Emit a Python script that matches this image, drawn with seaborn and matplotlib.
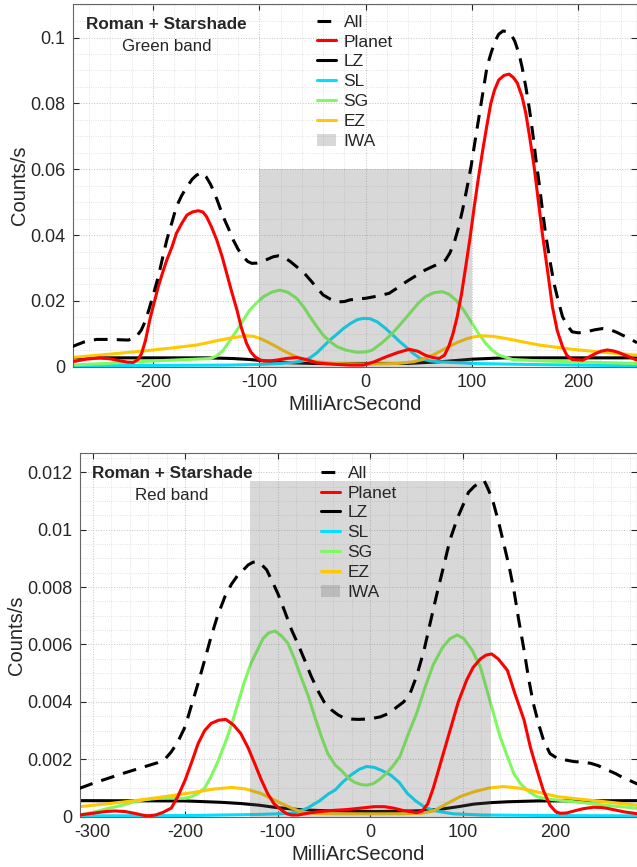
"""
Counts/s profiles across the Roman + Starshade field, green and red bands.
"""

import seaborn as sns
import matplotlib.pyplot as plt
from matplotlib.patches import Patch
from matplotlib.lines import Line2D
from matplotlib.ticker import MultipleLocator, FormatStrFormatter

# ---------------- Green band (top panel) ----------------
g_all_x = [-276, -265, -253, -240, -223, -216, -211, -207, -203, -199, -195, -191, -187, -182,
           -178, -173, -168, -163, -159, -154, -150, -146, -142, -138, -134, -129, -124.5, -120,
           -115, -111, -107, -102, -98, -92, -87, -82, -77.5, -71, -65, -58, -52, -46, -40, -33,
           -27, -20, -15, -8, 0, 10, 22, 30, 38, 47, 56, 66, 75, 79, 83, 87, 91, 95, 99, 103,
           107, 111, 114, 118, 122, 125, 129, 133, 136, 140, 144, 147, 150.5, 154, 157, 160, 163,
           166, 169, 173, 177, 181, 185, 190, 194, 200, 207, 215, 222.6, 229, 235, 244.5, 250, 255]
g_all_y = [0.0061, 0.0075, 0.0083, 0.0083, 0.0081, 0.0090, 0.0111, 0.014, 0.0182, 0.0227, 0.0273,
           0.033, 0.0385, 0.0440, 0.0486, 0.052, 0.0547, 0.057, 0.0582, 0.059, 0.0577, 0.0555,
           0.0527, 0.0492, 0.0456, 0.042, 0.0385, 0.0357, 0.0334, 0.032, 0.0314, 0.0315, 0.0319,
           0.0327, 0.0334, 0.0337, 0.0334, 0.032, 0.0304, 0.0285, 0.0263, 0.024, 0.0218, 0.0205,
           0.0197, 0.0198, 0.0203, 0.0206, 0.0208, 0.0214, 0.0223, 0.024, 0.0258, 0.0276, 0.0294,
           0.0309, 0.0324, 0.0345, 0.0375, 0.042, 0.0476, 0.054, 0.0608, 0.069, 0.077, 0.085,
           0.0911, 0.0955, 0.0992, 0.101, 0.102, 0.1018, 0.1013, 0.099, 0.0952, 0.091, 0.085,
           0.078, 0.0709, 0.063, 0.0557, 0.048, 0.0405, 0.0325, 0.0253, 0.020, 0.0152, 0.0123,
           0.0106, 0.0103, 0.0106, 0.0112, 0.0116, 0.0113, 0.0106, 0.0091, 0.0082, 0.0073]

g_planet_x = [-276, -263, -250, -240, -231, -224, -218.5, -214, -210.7, -207, -203, -199, -195,
              -191, -187, -182, -178, -173, -168, -163, -157.4, -153, -149.6, -145, -140, -135,
              -130.7, -126, -121, -117, -112, -108, -104, -100, -96, -90, -84, -75, -65, -56, -46,
              -37, -27, -14, -2, 8, 19, 30, 41, 49, 56, 63, 69, 74, 78, 82, 86, 90, 94, 98, 102,
              106, 110, 114, 117.6, 121, 125, 130, 134.8, 139, 142.6, 147, 150.5, 154, 158.3, 162,
              166, 171, 175.5, 180, 185, 189, 194, 204, 210, 216, 221, 227, 233, 238, 247.6, 255]
g_planet_y = [0.0015, 0.0023, 0.0027, 0.0024, 0.0018, 0.0014, 0.0013, 0.0022, 0.0040, 0.0080,
              0.0142, 0.0193, 0.0243, 0.0285, 0.0324, 0.0365, 0.0405, 0.0435, 0.0461, 0.0470,
              0.0474, 0.0470, 0.0456, 0.0425, 0.0385, 0.0335, 0.0284, 0.0228, 0.0172, 0.0120,
              0.0071, 0.0045, 0.0030, 0.0022, 0.0018, 0.0018, 0.0020, 0.0025, 0.0028, 0.0022,
              0.0012, 0.0009, 0.0007, 0.0005, 0.0005, 0.0015, 0.0030, 0.0043, 0.0053, 0.0047,
              0.0035, 0.0028, 0.0025, 0.0035, 0.0061, 0.0100, 0.0152, 0.0220, 0.0304, 0.0390,
              0.0486, 0.0575, 0.0658, 0.0735, 0.0800, 0.0840, 0.0871, 0.0885, 0.0889, 0.0878,
              0.0861, 0.0820, 0.0770, 0.0700, 0.0608, 0.0510, 0.0405, 0.0290, 0.0182, 0.0110,
              0.0061, 0.0035, 0.0022, 0.0020, 0.0030, 0.0040, 0.0047, 0.0051, 0.0048, 0.0043,
              0.0030, 0.0020]

g_lz_x = [-276, -150, -125, -109, -96, -84, -70, -50, 0, 40, 69, 85, 100, 115, 131, 255]
g_lz_y = [0.0027, 0.0027, 0.0025, 0.0022, 0.0018, 0.0015, 0.0012, 0.0010, 0.0010, 0.0010, 0.0015,
          0.0019, 0.0023, 0.0025, 0.0027, 0.0027]

g_sl_x = [-276, -200, -130, -100, -80, -66, -58.6, -52, -46, -40, -34, -27, -21, -14, -8, -2, 4,
          11, 18.8, 25, 31, 37.6, 44, 51.4, 60, 69, 100, 150, 200, 255]
g_sl_y = [0.0003, 0.0004, 0.0005, 0.0007, 0.0010, 0.0014, 0.0018, 0.0028, 0.0042, 0.0061, 0.0080,
          0.0099, 0.0116, 0.0132, 0.0143, 0.0147, 0.0146, 0.0136, 0.0116, 0.0098, 0.0079, 0.0061,
          0.0042, 0.0025, 0.0018, 0.0015, 0.0010, 0.0007, 0.0005, 0.0003]

g_sg_x = [-276, -245, -215, -190, -168, -146, -140, -134, -128, -121, -115, -109, -102, -96, -88,
          -80.6, -73, -65, -58, -52.4, -46, -40, -33, -27, -18, -8.5, 0, 6, 15, 25, 35, 44, 50,
          56.4, 64, 72, 78, 84.6, 92, 100, 106, 112.8, 119, 125.4, 138, 163, 194, 255]
g_sg_y = [0.0005, 0.0010, 0.0015, 0.0019, 0.0022, 0.0025, 0.0033, 0.0050, 0.0078, 0.0111, 0.0142,
          0.0172, 0.0196, 0.0213, 0.0227, 0.0233, 0.0226, 0.0208, 0.0180, 0.0152, 0.0122, 0.0096,
          0.0075, 0.0061, 0.0050, 0.0044, 0.0045, 0.0050, 0.0072, 0.0101, 0.0138, 0.0172, 0.0195,
          0.0213, 0.0225, 0.0228, 0.0221, 0.0203, 0.0172, 0.0132, 0.0101, 0.0071, 0.0050, 0.0035,
          0.0022, 0.0018, 0.0015, 0.0010]

g_ez_x = [-276, -245, -215, -185, -159, -137, -124, -112, -105, -99.4, -92, -84, -75, -65, -56,
          -46, -30, 0, 30, 45, 53, 62.7, 70, 78, 87, 95, 102, 109.7, 120, 131.7, 147, 163, 180,
          194, 220, 255]
g_ez_y = [0.0028, 0.0037, 0.0046, 0.0056, 0.0066, 0.0081, 0.0089, 0.0094, 0.0092, 0.0086, 0.0075,
          0.0061, 0.0045, 0.0030, 0.0020, 0.0015, 0.0010, 0.0008, 0.0010, 0.0015, 0.0022, 0.0035,
          0.0047, 0.0061, 0.0075, 0.0085, 0.0091, 0.0094, 0.0092, 0.0086, 0.0076, 0.0066, 0.0059,
          0.0053, 0.0045, 0.0035]

g_iwa = [-100, 100]
g_iwa_top = 0.06

# ---------------- Red band (bottom panel) ----------------
r_all_x = [-314, -298, -283, -268, -255, -242, -230, -222, -215, -208, -200, -193, -186, -179,
           -172, -165, -157, -150, -143, -137, -132, -127, -123, -118, -112, -106, -100, -93, -85,
           -78, -71, -64, -57, -50, -42, -35, -28, -20, -13, -5, 3, 11, 20, 29, 36, 43, 50, 58,
           65, 72, 79, 86, 94, 101, 106, 112, 119, 123, 126, 130, 133, 139, 144, 150, 155, 160,
           166, 171, 176, 182, 187, 194, 202, 210, 220, 230, 238, 246, 256, 265, 274, 281, 289]
r_all_y = [0.00099, 0.00118, 0.00134, 0.00150, 0.00163, 0.00176, 0.00188, 0.00200, 0.00226,
           0.00260, 0.00314, 0.00390, 0.00465, 0.00545, 0.00627, 0.00700, 0.00767, 0.00810,
           0.00842, 0.00860, 0.00877, 0.00886, 0.00889, 0.00880, 0.00860, 0.00820, 0.00778,
           0.00720, 0.00650, 0.00600, 0.00546, 0.00490, 0.00441, 0.00400, 0.00372, 0.00355,
           0.00343, 0.00340, 0.00339, 0.00340, 0.00343, 0.00348, 0.00360, 0.00383, 0.00400,
           0.00430, 0.00490, 0.00580, 0.00680, 0.00778, 0.00870, 0.00964, 0.01040, 0.01092,
           0.01130, 0.01150, 0.01167, 0.01170, 0.01150, 0.01120, 0.01092, 0.01020, 0.00952,
           0.00870, 0.00790, 0.00690, 0.00580, 0.00480, 0.00395, 0.00320, 0.00267, 0.00220,
           0.00203, 0.00198, 0.00192, 0.00190, 0.00186, 0.00178, 0.00163, 0.00150, 0.00134,
           0.00125, 0.00113]

r_planet_x = [-314, -300, -286, -276, -265, -255, -245, -240, -232, -224, -215, -208, -200, -193,
              -186, -179, -172, -164, -156, -148, -140, -132, -125, -118, -111, -104, -96, -90,
              -85, -78, -68, -55, -40, -25, -10, 4, 15, 25, 35, 45, 50, 56, 62, 68, 77, 86, 95,
              104, 111, 119, 125, 131, 138, 148, 156, 166, 173, 180, 187, 194, 200, 205, 212, 220,
              230, 241, 250, 256, 265, 274, 289]
r_planet_y = [0.00006, 0.00012, 0.00018, 0.00020, 0.00018, 0.00012, 0.00005, 0.00003, 0.00006,
              0.00015, 0.00030, 0.00070, 0.00128, 0.00190, 0.00255, 0.00300, 0.00325, 0.00336,
              0.00339, 0.00320, 0.00290, 0.00240, 0.00186, 0.00130, 0.00081, 0.00045, 0.00023,
              0.00010, 0.00006, 0.00006, 0.00012, 0.00018, 0.00022, 0.00025, 0.00030, 0.00035,
              0.00035, 0.00030, 0.00022, 0.00017, 0.00014, 0.00020, 0.00045, 0.00100, 0.00200,
              0.00300, 0.00400, 0.00476, 0.00520, 0.00550, 0.00563, 0.00567, 0.00550, 0.00510,
              0.00430, 0.00337, 0.00240, 0.00163, 0.00090, 0.00040, 0.00018, 0.00012, 0.00013,
              0.00020, 0.00028, 0.00033, 0.00032, 0.00029, 0.00023, 0.00017, 0.00010]

r_lz_x = [-314, -200, -160, -140, -120, -104, -85, -68, -40, 0, 30, 55, 76, 95, 112, 130, 148, 180,
          289]
r_lz_y = [0.00056, 0.00055, 0.00050, 0.00046, 0.00040, 0.00033, 0.00027, 0.00023, 0.00020,
          0.00018, 0.00019, 0.00021, 0.00026, 0.00035, 0.00044, 0.00049, 0.00052, 0.00055, 0.00056]

r_sl_x = [-314, -200, -120, -100, -86, -76, -68, -55, -45, -38, -30, -21, -12, -4, 4, 13, 22, 31,
          40, 49, 58, 68, 76, 90, 120, 200, 289]
r_sl_y = [0.00003, 0.00004, 0.00008, 0.00010, 0.00012, 0.00020, 0.00030, 0.00055, 0.00080,
          0.00093, 0.00120, 0.00145, 0.00165, 0.00175, 0.00172, 0.00160, 0.00145, 0.00120,
          0.00081, 0.00055, 0.00035, 0.00022, 0.00017, 0.00010, 0.00006, 0.00004, 0.00003]

r_sg_x = [-314, -300, -283, -268, -255, -242, -229, -215, -200, -193, -186, -179, -172, -165, -157,
          -150, -143, -136, -129, -122, -116, -110, -103, -96, -89, -82, -75, -67, -60, -53, -46,
          -38, -31, -24, -17, -10, -4, 3, 10, 17, 24, 32, 40, 50, 59, 68, 78, 86, 94, 101, 110,
          119, 126, 133, 140, 148, 155, 162, 170, 180, 190, 202, 220, 238, 260, 289]
r_sg_y = [0.00006, 0.00015, 0.00029, 0.00040, 0.00052, 0.00060, 0.00064, 0.00065, 0.00064,
          0.00070, 0.00081, 0.00100, 0.00140, 0.00190, 0.00255, 0.00320, 0.00395, 0.00470,
          0.00534, 0.00580, 0.00620, 0.00640, 0.00647, 0.00630, 0.00604, 0.00550, 0.00488,
          0.00420, 0.00348, 0.00280, 0.00220, 0.00180, 0.00160, 0.00135, 0.00120, 0.00112,
          0.00110, 0.00115, 0.00130, 0.00150, 0.00175, 0.00210, 0.00280, 0.00360, 0.00450,
          0.00530, 0.00590, 0.00620, 0.00633, 0.00620, 0.00580, 0.00520, 0.00440, 0.00360,
          0.00280, 0.00210, 0.00150, 0.00116, 0.00090, 0.00070, 0.00062, 0.00058, 0.00052,
          0.00046, 0.00038, 0.00029]

r_ez_x = [-314, -290, -265, -240, -211, -190, -170, -150, -135, -118, -106, -96, -85, -75, -60, -30,
          0, 30, 55, 68, 83, 97, 112, 128, 144, 160, 175, 202, 230, 260, 289]
r_ez_y = [0.00035, 0.00043, 0.00052, 0.00062, 0.00075, 0.00085, 0.00096, 0.00102, 0.00097,
          0.00081, 0.00062, 0.00046, 0.00030, 0.00017, 0.00011, 0.00010, 0.00010, 0.00010,
          0.00012, 0.00020, 0.00046, 0.00070, 0.00087, 0.00100, 0.00105, 0.00100, 0.00090,
          0.00070, 0.00060, 0.00050, 0.00040]

r_iwa = [-130, 130]
r_iwa_top = 0.0117

labels = ['All', 'Planet', 'LZ', 'SL', 'SG', 'EZ', 'IWA']
colors = {'All': 'black', 'Planet': '#ff0000', 'LZ': 'black', 'SL': '#00e1ff',
          'SG': '#80f860', 'EZ': '#ffc800'}
iwa_color = (0.4, 0.4, 0.4)
iwa_alpha = 0.25
LW = 2.2
DASH = (0, (4.5, 3))

sns.set_style('ticks')
plt.rcParams['font.family'] = ['Liberation Sans', 'DejaVu Sans']
plt.rcParams['axes.unicode_minus'] = False
plt.rcParams['text.color'] = '#262626'
plt.rcParams['axes.labelcolor'] = '#262626'
plt.rcParams['xtick.color'] = '#262626'
plt.rcParams['ytick.color'] = '#262626'


def draw_panel(ax, series, iwa, iwa_top, xlim, ylim, ymajor, yminor, title, band, leg_y):
    # background components first, then the IWA patch, then planet and total on top
    for name in ['LZ', 'SL', 'SG', 'EZ']:
        x, y = series[name]
        sns.lineplot(x=x, y=y, ax=ax, color=colors[name], lw=LW, zorder=2)
    ax.fill_between(iwa, 0, iwa_top, color=iwa_color, alpha=iwa_alpha, lw=0, zorder=2.5)
    x, y = series['Planet']
    sns.lineplot(x=x, y=y, ax=ax, color=colors['Planet'], lw=LW, zorder=3)
    x, y = series['All']
    sns.lineplot(x=x, y=y, ax=ax, color=colors['All'], lw=LW, zorder=3.5)
    ax.lines[-1].set_linestyle(DASH)

    ax.set_xlim(*xlim)
    ax.set_ylim(*ylim)
    ax.xaxis.set_major_locator(MultipleLocator(100))
    ax.xaxis.set_minor_locator(MultipleLocator(20))
    ax.yaxis.set_major_locator(MultipleLocator(ymajor))
    ax.yaxis.set_minor_locator(MultipleLocator(yminor))
    ax.yaxis.set_major_formatter(FormatStrFormatter('%g'))
    ax.set_axisbelow(True)
    ax.grid(which='major', ls=':', color='#c4c4c4', lw=0.7)
    ax.grid(which='minor', ls=':', color='#dadada', lw=0.6)
    ax.tick_params(which='major', direction='in', length=4, width=0.8, labelsize=13,
                   top=True, right=True, pad=5)
    ax.tick_params(which='minor', length=0)
    for sp in ax.spines.values():
        sp.set_color('#666666')
        sp.set_linewidth(0.8)
    ax.set_xlabel('MilliArcSecond', fontsize=14.5, labelpad=3)
    ax.set_ylabel('Counts/s', fontsize=14.5, labelpad=1)

    ax.text(0.166, 0.943, title, transform=ax.transAxes, fontsize=12.3, fontweight='bold',
            ha='center', va='center')
    ax.text(0.166, 0.883, band, transform=ax.transAxes, fontsize=12.2, ha='center', va='center')

    handles = [Line2D([], [], color='black', lw=LW, ls=DASH),
               Line2D([], [], color=colors['Planet'], lw=LW),
               Line2D([], [], color='black', lw=LW),
               Line2D([], [], color=colors['SL'], lw=LW),
               Line2D([], [], color=colors['SG'], lw=LW),
               Line2D([], [], color=colors['EZ'], lw=LW),
               Patch(facecolor=iwa_color, alpha=iwa_alpha, lw=0)]
    ax.legend(handles, labels, loc='upper left', bbox_to_anchor=(0.42, leg_y), frameon=False,
              fontsize=12.5, handlelength=1.1, handletextpad=0.45, labelspacing=0.27,
              borderaxespad=0)


fig = plt.figure(figsize=(6.37, 8.67), dpi=100)
ax1 = fig.add_axes([0.114, 0.577, 0.886, 0.4184])
ax2 = fig.add_axes([0.125, 0.058, 0.875, 0.4192])

green = {'All': (g_all_x, g_all_y), 'Planet': (g_planet_x, g_planet_y), 'LZ': (g_lz_x, g_lz_y),
         'SL': (g_sl_x, g_sl_y), 'SG': (g_sg_x, g_sg_y), 'EZ': (g_ez_x, g_ez_y)}
red = {'All': (r_all_x, r_all_y), 'Planet': (r_planet_x, r_planet_y), 'LZ': (r_lz_x, r_lz_y),
       'SL': (r_sl_x, r_sl_y), 'SG': (r_sg_x, r_sg_y), 'EZ': (r_ez_x, r_ez_y)}

draw_panel(ax1, green, g_iwa, g_iwa_top, (-275.5, 255), (0, 0.1102), 0.02, 0.005,
           'Roman + Starshade', 'Green band', 0.99)
draw_panel(ax2, red, r_iwa, r_iwa_top, (-314, 288), (0, 0.01266), 0.002, 0.0005,
           'Roman + Starshade', 'Red band', 0.985)

fig.savefig('out.png', dpi=100)
